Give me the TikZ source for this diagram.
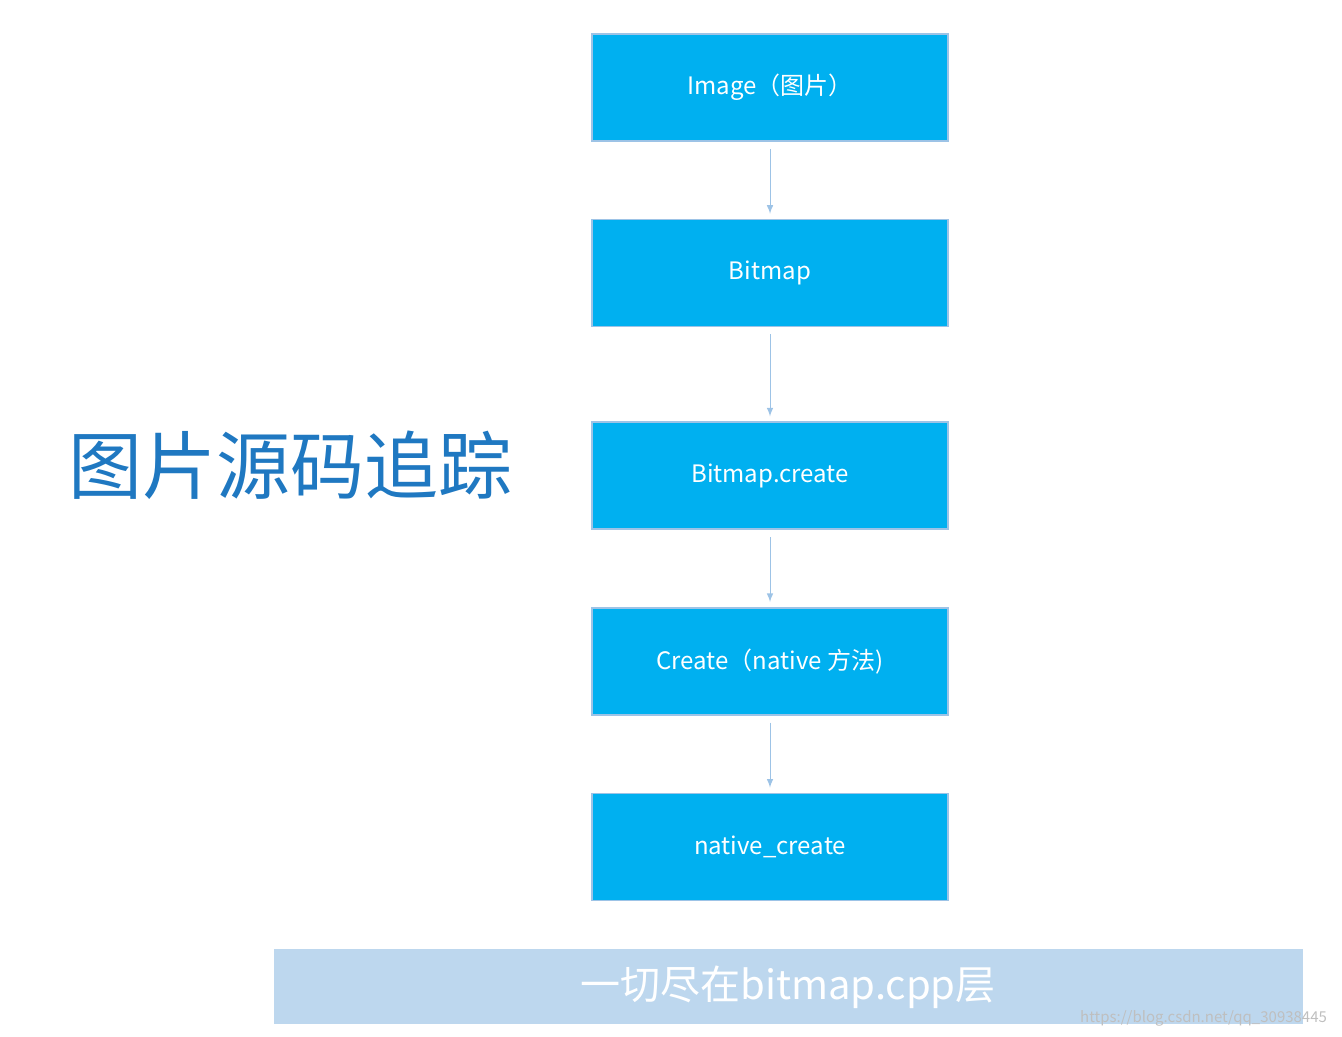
\documentclass[tikz,border=0pt]{standalone}
\usepackage{fontspec}
\setmainfont{Noto Sans CJK SC}
\usetikzlibrary{positioning}
\definecolor{boxblue}{HTML}{00B0F0}
\definecolor{edgeblue}{HTML}{9DC3E6}
\definecolor{barblue}{HTML}{BDD7EE}
\definecolor{titleblue}{HTML}{1F78C1}
\tikzset{
  stepbox/.style={draw=edgeblue, line width=0.8pt, fill=boxblue, text=white,
    minimum width=178pt, minimum height=53.5pt, inner sep=0pt, font=\fontsize{12}{14}\selectfont},
  link/.style={draw=edgeblue, line width=0.5pt, -latex, shorten >=2.5pt, shorten <=3.5pt}
}
\begin{document}
\begin{tikzpicture}[x=0.5pt, y=-0.5pt]
\useasboundingbox (0,0) rectangle (1342,1037);
\node[stepbox] (img) at (770,87.5) {Image（图片）};
\node[stepbox, below=38.5pt of img] (bmp) {Bitmap};
\node[stepbox, below=47pt of bmp] (bcr) {Bitmap.create};
\node[stepbox, below=38.5pt of bcr] (ncr) {Create（native 方法)};
\node[stepbox, below=38.5pt of ncr] (nat) {native\_create};
\foreach \a/\b in {img/bmp, bmp/bcr, bcr/ncr, ncr/nat}
  \draw[link] (\a) -- (\b);
\node[text=titleblue, font=\fontsize{37}{40}\selectfont] (title) at (290,465) {图片源码追踪};
\fill[barblue] (274,949) rectangle (1303,1024);
\node[text=white, font=\fontsize{20}{22}\selectfont] (bar) at (788,987) {一切尽在bitmap.cpp层};
\node[text=black!25, font=\fontsize{7.5}{8}\selectfont, anchor=east] (mark) at (1334,1018) {https://blog.csdn.net/qq\_30938445};
\end{tikzpicture}
\end{document}
